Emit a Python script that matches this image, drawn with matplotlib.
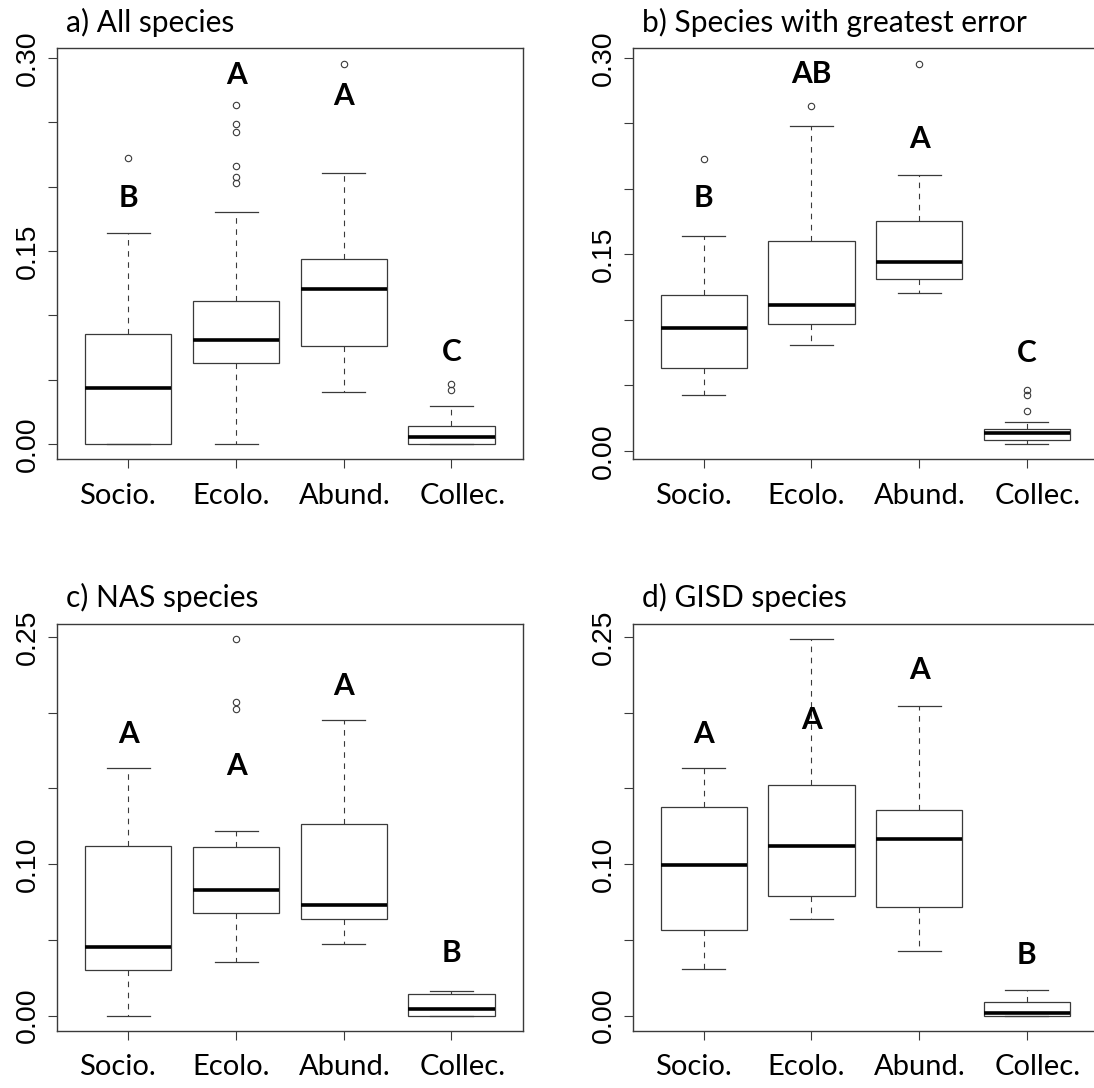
import numpy as np
import matplotlib
matplotlib.use("Agg")
import matplotlib.pyplot as plt
from matplotlib.ticker import FixedLocator, NullFormatter

labels = ["Socio.", "Ecolo.", "Abund.", "Collec."]

# a) All species
a_lo = [0.000, 0.000, 0.0402, 0.000]
a_q1 = [0.000, 0.0630, 0.0765, 0.000]
a_med = [0.0433, 0.0809, 0.1203, 0.0052]
a_q3 = [0.0853, 0.1112, 0.1436, 0.0137]
a_hi = [0.1639, 0.1802, 0.2105, 0.0298]
a_out = [[0.2222], [0.2027, 0.2074, 0.2157, 0.2424, 0.2484, 0.2637], [0.2956], [0.0420, 0.0467]]
a_let = ["B", "A", "A", "C"]
a_let_y = [0.191, 0.2865, 0.270, 0.0718]

# b) Species with greatest error
b_lo = [0.0428, 0.0811, 0.1208, 0.0051]
b_q1 = [0.0630, 0.0969, 0.1313, 0.0084]
b_med = [0.0938, 0.1116, 0.1440, 0.0135]
b_q3 = [0.1188, 0.1598, 0.1754, 0.0166]
b_hi = [0.1642, 0.2483, 0.2108, 0.0222]
b_out = [[0.2228], [0.2633], [0.2957], [0.0301, 0.0426, 0.0464]]
b_let = ["B", "AB", "A", "C"]
b_let_y = [0.193, 0.2875, 0.2378, 0.0747]

# c) NAS species
c_lo = [0.000, 0.0357, 0.0471, 0.000]
c_q1 = [0.0304, 0.0678, 0.0639, 0.000]
c_med = [0.0456, 0.0828, 0.0731, 0.0044]
c_q3 = [0.1121, 0.1110, 0.1262, 0.0141]
c_hi = [0.1634, 0.1220, 0.1954, 0.0165]
c_out = [[], [0.2022, 0.2073, 0.2487], [], []]
c_let = ["A", "A", "A", "B"]
c_let_y = [0.1861, 0.1645, 0.2176, 0.0414]

# d) GISD species
d_lo = [0.0308, 0.0639, 0.0425, 0.000]
d_q1 = [0.0566, 0.0791, 0.0718, 0.000]
d_med = [0.0996, 0.1117, 0.1167, 0.0018]
d_q3 = [0.1379, 0.1520, 0.1357, 0.0088]
d_hi = [0.1637, 0.2487, 0.2042, 0.0167]
d_out = [[], [], [], []]
d_let = ["A", "A", "A", "B"]
d_let_y = [0.1861, 0.1954, 0.228, 0.0403]

ticks_top = [0.00, 0.05, 0.10, 0.15, 0.20, 0.25, 0.30]
ticklab_top = ["0.00", "", "", "0.15", "", "", "0.30"]
ticks_bot = [0.00, 0.05, 0.10, 0.15, 0.20, 0.25]
ticklab_bot = ["0.00", "", "0.10", "", "", "0.25"]

LINE = "#3a3a3a"
W, H = 1094, 1088


def panel(rect, title, lo, q1, med, q3, hi, out, let, let_y, ticks, ticklab, cut_right=False):
    ax = fig.add_axes(rect)
    stats = []
    for i in range(4):
        stats.append(dict(whislo=lo[i], q1=q1[i], med=med[i], q3=q3[i],
                          whishi=hi[i], fliers=out[i]))
    ax.bxp(stats, positions=[1, 2, 3, 4], widths=0.8, capwidths=0.4,
           patch_artist=True,
           boxprops=dict(facecolor="white", edgecolor=LINE, linewidth=0.9),
           medianprops=dict(color="black", linewidth=2.6, solid_capstyle="butt"),
           whiskerprops=dict(color=LINE, linewidth=0.8, linestyle=(0, (5, 5))),
           capprops=dict(color=LINE, linewidth=0.9),
           flierprops=dict(marker="o", markersize=4.6, markerfacecolor="none",
                           markeredgecolor=LINE, markeredgewidth=0.8))

    # R-like 4% padding
    allv = lo + hi + [v for o in out for v in o]
    vmin, vmax = min(allv), max(allv)
    pad = 0.04 * (vmax - vmin)
    ax.set_ylim(vmin - pad, vmax + pad)
    ax.set_xlim(0.5 - 0.04 * 4, 4.5 + 0.04 * 4)

    for i in range(4):
        ax.text(i + 1, let_y[i], let[i], ha="center", va="center",
                fontsize=21.5, fontweight="bold", family="Lato")

    ax.yaxis.set_major_locator(FixedLocator(ticks))
    ax.set_yticklabels(ticklab, rotation=90, va="center",
                       family="Liberation Sans", fontsize=20.5)
    ax.xaxis.set_major_locator(FixedLocator([1, 2, 3, 4]))
    ax.xaxis.set_major_formatter(NullFormatter())
    # category names sit slightly spread out compared to the ticks
    ax.xaxis.set_minor_locator(FixedLocator([0.90, 1.95, 3.01, 4.10]))
    ax.set_xticklabels(labels, minor=True, family="Lato", fontsize=21)
    ax.tick_params(axis="both", which="major", direction="out", length=6.5,
                   width=0.8, color=LINE)
    ax.tick_params(axis="y", pad=5)
    ax.tick_params(axis="x", which="minor", length=0, pad=17)
    for s in ax.spines.values():
        s.set_color(LINE)
        s.set_linewidth(1.0)
    if cut_right:
        # the original image is cropped just before this border
        ax.spines["right"].set_visible(False)

    ax.annotate(title, xy=(0, 1), xycoords="axes fraction",
                xytext=(6.5, 12), textcoords="offset points",
                ha="left", va="baseline", family="Lato", fontsize=21.5)
    return ax


fig = plt.figure(figsize=(W / 100, H / 100), dpi=100)

wa = 465.2 / W
ha_top = 411.0 / H
ha_bot = 407.0 / H
left1 = 57.3 / W
left2 = 632.7 / W
bot_top = 1 - 459.3 / H
bot_bot = 1 - 1030.7 / H

panel([left1, bot_top, wa, ha_top], "a) All species",
      a_lo, a_q1, a_med, a_q3, a_hi, a_out, a_let, a_let_y, ticks_top, ticklab_top)
panel([left2, bot_top, wa, ha_top], "b) Species with greatest error",
      b_lo, b_q1, b_med, b_q3, b_hi, b_out, b_let, b_let_y, ticks_top, ticklab_top,
      cut_right=True)
panel([left1, bot_bot, wa, ha_bot], "c) NAS species",
      c_lo, c_q1, c_med, c_q3, c_hi, c_out, c_let, c_let_y, ticks_bot, ticklab_bot)
panel([left2, bot_bot, wa, ha_bot], "d) GISD species",
      d_lo, d_q1, d_med, d_q3, d_hi, d_out, d_let, d_let_y, ticks_bot, ticklab_bot,
      cut_right=True)

fig.savefig("out.png", dpi=100, facecolor="white")
